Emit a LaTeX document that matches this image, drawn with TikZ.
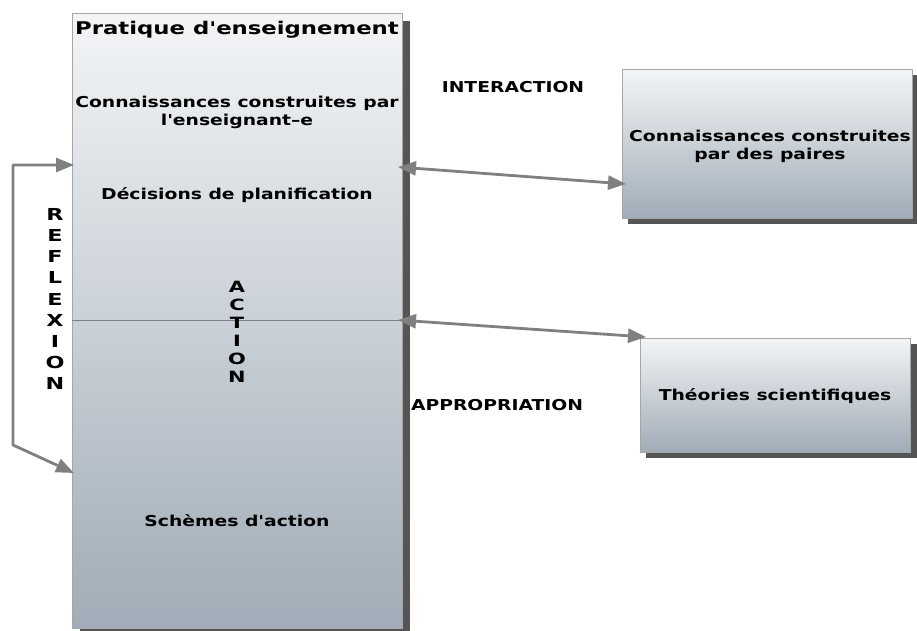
\documentclass[tikz,border=0pt]{standalone}
\usepackage{fontspec}
\setmainfont{DejaVu Sans}
\newfontfamily\wf{DejaVu Sans}[FakeStretch=1.25,Ligatures=TeXOff]
\newfontfamily\wt{DejaVu Sans}[FakeStretch=1.3,Ligatures=TeXOff]
\newfontfamily\wv{DejaVu Sans}[FakeStretch=1.35,Ligatures=TeXOff]
\usetikzlibrary{arrows.meta,calc}
\definecolor{topc}{HTML}{F3F5F7}
\definecolor{botc}{HTML}{A0ACB7}
\definecolor{arrc}{HTML}{808080}
\definecolor{shad}{HTML}{555555}
\begin{document}
\begin{tikzpicture}[x=1pt,y=-1pt,
  lbl/.style={font=\wf\bfseries\fontsize{15}{18}\selectfont, align=center, inner sep=0pt},
  bconn/.style={draw=arrc, line width=2.8pt, {Triangle[length=18pt,width=14pt]}-{Triangle[length=18pt,width=14pt]}}]
\useasboundingbox (0,0) rectangle (917,630);
% main box
\fill[shad] (80,21) rectangle (410,636);
\shade[top color=topc, bottom color=botc, draw=gray!70, line width=0.8pt] (72,13) rectangle (402,628);
\coordinate (mainL1) at (74,165);
\coordinate (mainL2) at (74,473);
\draw[gray, line width=1pt] (72,320) -- (402,320);
\node[font=\wt\bfseries\fontsize{17.5}{20}\selectfont, inner sep=0pt] (title) at (237,30) {Pratique d'enseignement};
\node[lbl] (conn) at (237,112) {Connaissances construites par\\l'enseignant–e};
\node[lbl] (dec) at (237,195) {Décisions de planification};
\node[lbl] (sch) at (237,521) {Schèmes d'action};
\node[lbl, font=\wv\bfseries\fontsize{15.5}{18}\selectfont] (act) at (237,332) {A\\C\\T\\I\\O\\N};
\node[lbl, font=\wv\bfseries\fontsize{16.5}{21.2}\selectfont] (refl) at (55,299) {R\\E\\F\\L\\E\\X\\I\\O\\N};
% right boxes
\fill[shad] (628,75) rectangle (918,224);
\shade[top color=topc, bottom color=botc, draw=gray!70, line width=0.8pt] (622,69) rectangle (912,218);
\node[lbl] (pairs) at (770,146) {Connaissances construites\\par des paires};
\fill[shad] (646,344) rectangle (918,458);
\shade[top color=topc, bottom color=botc, draw=gray!70, line width=0.8pt] (640,338) rectangle (910,452);
\node[lbl] (theo) at (775,396) {Théories scientifiques};
\coordinate (pairsL) at (626,184);
\coordinate (theoL) at (646,337);
\coordinate (mainR1) at (398,167);
\coordinate (mainR2) at (398,320);
\node[lbl] (inter) at (513,87) {INTERACTION};
\node[lbl] (appr) at (497,405) {APPROPRIATION};
% arrows
\draw[bconn] (mainR1) -- (pairsL);
\draw[bconn] (mainR2) -- (theoL);
\coordinate (c1) at (13,165);
\coordinate (c2) at (13,445);
\draw[bconn, line join=round] (mainL1) -- (c1) -- (c2) -- (mainL2);
\end{tikzpicture}
\end{document}
